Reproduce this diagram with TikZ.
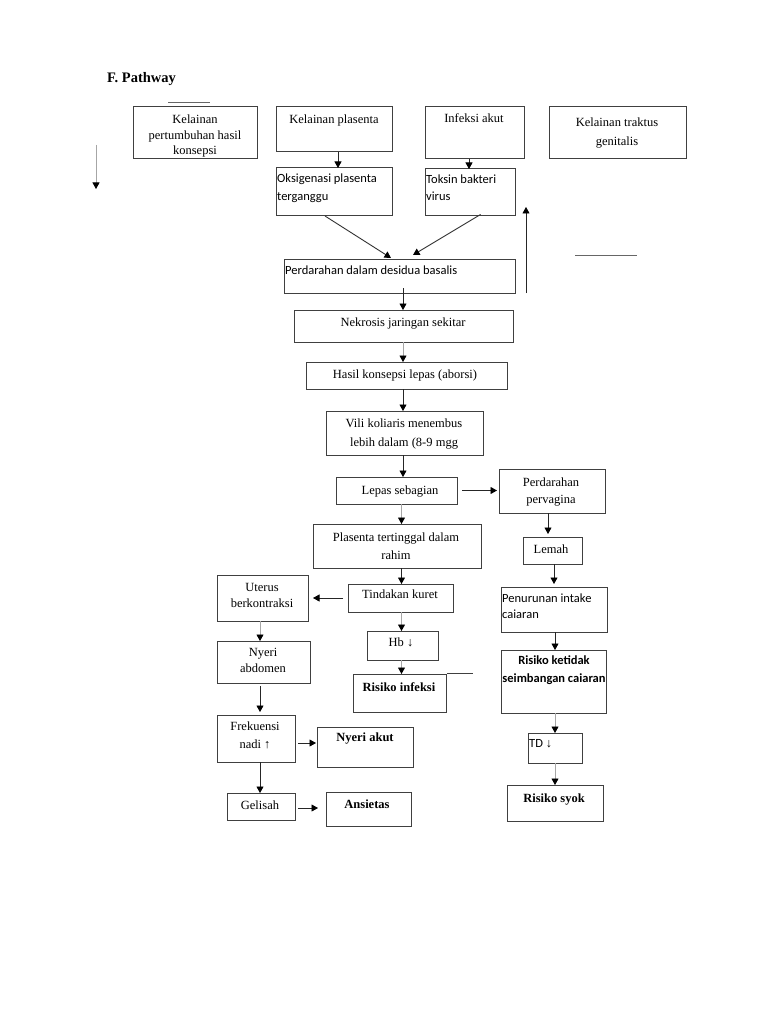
\documentclass[tikz,border=0pt]{standalone}
\usepackage{fontspec}
\setmainfont{Liberation Serif}
\setsansfont{Carlito}
\newfontfamily\arrsans{Liberation Sans}
\usetikzlibrary{arrows.meta,calc}
\begin{document}
\begin{tikzpicture}[x=1pt,y=-1pt,
  box/.style={draw=black!75, line width=1pt, anchor=north west, inner sep=0pt, outer sep=0pt},
  arr/.style={line width=0.9pt, draw=black!85, -{Triangle[length=6.5pt,width=7pt,color=black]}},
  garr/.style={arr, draw=black!35},
  ln/.style={line width=1pt, draw=black!60},
  sr/.style={font=\fontsize{12.5}{15.5}\selectfont, inner sep=0pt, align=center, anchor=north},
  srb/.style={sr, font=\bfseries\fontsize{12.5}{15.5}\selectfont},
  ss/.style={font=\sffamily\fontsize{12.5}{17.5}\selectfont, inner sep=0pt, align=left, anchor=north west},
  ssb/.style={font=\sffamily\bfseries\fontsize{12.5}{18}\selectfont, inner sep=0pt, align=center, anchor=north},
]
\useasboundingbox (0,0) rectangle (768,1024);
\fill[white] (0,0) rectangle (768,1024);

% title
\node[font=\bfseries\fontsize{14.5}{17}\selectfont, inner sep=0pt, anchor=north west] (title) at (107,72) {F. Pathway};

% boxes
\node[box, minimum width=124pt, minimum height=52pt] (k1) at (133,107) {};
\node[box, minimum width=116pt, minimum height=45pt] (k2) at (276,107) {};
\node[box, minimum width=99pt,  minimum height=52pt] (k3) at (425,107) {};
\node[box, minimum width=137pt, minimum height=52pt] (k4) at (549,107) {};
\node[box, minimum width=116pt, minimum height=48pt] (ox) at (276,168) {};
\node[box, minimum width=90pt,  minimum height=47pt] (tk) at (425,169) {};
\node[box, minimum width=231pt, minimum height=34pt] (pd) at (284,259) {};
\node[box, minimum width=219pt, minimum height=32pt] (nk) at (294,310) {};
\node[box, minimum width=201pt, minimum height=27pt] (hk) at (306,362) {};
\node[box, minimum width=157pt, minimum height=44pt] (vl) at (326,411) {};
\node[box, minimum width=121pt, minimum height=27pt] (ls) at (336,477) {};
\node[box, minimum width=106pt, minimum height=44pt] (pv) at (499,469) {};
\node[box, minimum width=59pt,  minimum height=27pt] (lm) at (523,537) {};
\node[box, minimum width=168pt, minimum height=44pt] (pl) at (313,524) {};
\node[box, minimum width=105pt, minimum height=28pt] (tn) at (348,584) {};
\node[box, minimum width=91pt,  minimum height=46pt] (ut) at (217,575) {};
\node[box, minimum width=93pt,  minimum height=42pt] (na) at (217,641) {};
\node[box, minimum width=71pt,  minimum height=29pt] (hb) at (367,631) {};
\node[box, minimum width=93pt,  minimum height=38pt] (ri) at (353,674) {};
\node[box, minimum width=106pt, minimum height=45pt] (pn) at (501,587) {};
\node[box, minimum width=105pt, minimum height=63pt] (rk) at (501,650) {};
\node[box, minimum width=54pt,  minimum height=30pt] (td) at (528,733) {};
\node[box, minimum width=96pt,  minimum height=36pt] (rs) at (507,785) {};
\node[box, minimum width=78pt,  minimum height=47pt] (fr) at (217,715) {};
\node[box, minimum width=96pt,  minimum height=40pt] (nya) at (317,727) {};
\node[box, minimum width=68pt,  minimum height=27pt] (gl) at (227,793) {};
\node[box, minimum width=85pt,  minimum height=34pt] (an) at (326,792) {};

% texts
\node[sr] (k1t) at (195,115) {Kelainan\\pertumbuhan hasil\\konsepsi};
\node[sr] (k2t) at (334,115) {Kelainan plasenta};
\node[sr] (k3t) at (474,114) {Infeksi akut};
\node[sr, font=\fontsize{12.5}{19}\selectfont] (k4t) at (617,118) {Kelainan traktus\\genitalis};
\node[ss, font=\sffamily\fontsize{12.5}{18}\selectfont] (oxt) at (277,174) {Oksigenasi plasenta\\terganggu};
\node[ss, font=\sffamily\fontsize{12.5}{17}\selectfont] (tkt) at (426,175) {Toksin bakteri\\virus};
\node[ss] (pdt) at (285,266) {Perdarahan dalam desidua basalis};
\node[sr] (nkt) at (403,318) {Nekrosis jaringan sekitar};
\node[sr] (hkt) at (405,370) {Hasil konsepsi lepas (aborsi)};
\node[sr, font=\fontsize{12.5}{19}\selectfont] (vlt) at (404,419) {Vili koliaris menembus\\lebih dalam (8-9 mgg};
\node[sr] (lst) at (400,486) {Lepas sebagian};
\node[sr, font=\fontsize{12.5}{17}\selectfont] (pvt) at (551,478) {Perdarahan\\pervagina};
\node[sr] (lmt) at (551,545) {Lemah};
\node[sr, font=\fontsize{12.5}{18}\selectfont] (plt) at (396,533) {Plasenta tertinggal dalam\\rahim};
\node[sr] (tnt) at (400,590) {Tindakan kuret};
\node[sr, font=\fontsize{12.5}{16}\selectfont] (utt) at (262,583) {Uterus\\berkontraksi};
\node[sr, font=\fontsize{12.5}{16}\selectfont] (nat) at (263,648) {Nyeri\\abdomen};
\node[sr] (hbt) at (401,638) {Hb ↓};
\node[srb] (rit) at (399,682) {Risiko infeksi};
\node[sr, font=\fontsize{12.5}{18}\selectfont] (frt) at (255,722) {Frekuensi\\nadi ↑};
\node[srb] (nyat) at (365,733) {Nyeri akut};
\node[sr] (glt) at (260,801) {Gelisah};
\node[srb] (ant) at (367,800) {Ansietas};
\node[ss, font=\sffamily\fontsize{12.5}{15.5}\selectfont] (pnt) at (502,594) {Penurunan intake\\caiaran};
\node[ssb] (rkt) at (554,655.5) {Risiko ketidak\\seimbangan caiaran};
\node[ss] (tdt) at (529,739) {TD {\arrsans ↓}};
\node[srb] (rst) at (554,794) {Risiko syok};

% column coordinates
\coordinate (c1) at (338,0);
\coordinate (c2) at (469,0);
\coordinate (d1) at (325,0);
\coordinate (e1) at (391,0);
\coordinate (d2) at (478,0);
\coordinate (e2) at (413,0);
\coordinate (col) at (403,0);
\coordinate (colb) at (401.5,0);
\coordinate (cR1) at (548,0);
\coordinate (cR2) at (554,0);
\coordinate (cR3) at (555,0);
\coordinate (cL) at (260,0);
\coordinate (h1) at (0,743);
\coordinate (h2) at (0,808);

% free marks
\coordinate (u1) at (526,293);
\coordinate (u2) at (526,207);
\coordinate (v1) at (96,145);
\coordinate (v2) at (96,189);
\coordinate (l1a) at (168,103);
\coordinate (l1b) at (210,103);
\coordinate (l2a) at (575,255);
\coordinate (l2b) at (637,255);
\coordinate (l3a) at (447,673);
\coordinate (l3b) at (473,673);

\draw[ln] (l1a) -- (l1b);
\draw[ln] (l2a) -- (l2b);
\draw[ln, draw=black!75] (l3a) -- (l3b);
\draw[arr] (u1) -- (u2);
\draw[garr] (v1) -- (v2);

% connectors
\draw[arr] (k2.south -| c1) -- (ox.north -| c1);
\draw[arr] (k3.south -| c2) -- (tk.north -| c2);
\draw[arr, draw=black!80] (ox.south -| d1) -- ([yshift=1pt]pd.north -| e1);
\draw[arr, draw=black!80, shorten <=-3pt] (tk.south -| d2) -- ([yshift=4pt]pd.north -| e2);
\draw[arr, shorten <=-5pt] (pd.south -| col) -- (nk.north -| col);
\draw[garr] (nk.south -| col) -- (hk.north -| col);
\draw[arr] (hk.south -| col) -- (vl.north -| col);
\draw[arr] (vl.south -| col) -- (ls.north -| col);
\draw[arr, shorten <=5pt, shorten >=2pt] (ls.east) -- (pv.west |- ls.east);
\draw[garr] (ls.south -| colb) -- (pl.north -| colb);
\draw[arr] (pl.south -| colb) -- (tn.north -| colb);
\draw[arr, shorten <=5pt, shorten >=5pt] (tn.west) -- (ut.east |- tn.west);
\draw[garr] (tn.south -| colb) -- (hb.north -| colb);
\draw[garr] (hb.south -| colb) -- (ri.north -| colb);
\draw[garr] (ut.south -| cL) -- (na.north -| cL);
\draw[arr, shorten <=3pt, shorten >=3pt] (na.south -| cL) -- (fr.north -| cL);
\draw[arr] (fr.south -| cL) -- (gl.north -| cL);
\draw[arr, shorten <=3pt, shorten >=1pt] (fr.east |- h1) -- (nya.west |- h1);
\draw[arr, shorten <=3pt, shorten >=8pt] (gl.east |- h2) -- (an.west |- h2);
\draw[arr, shorten >=3pt] (pv.south -| cR1) -- (lm.north -| cR1);
\draw[arr, shorten >=3pt] (lm.south -| cR2) -- (pn.north -| cR2);
\draw[arr] (pn.south -| cR3) -- (rk.north -| cR3);
\draw[garr] (rk.south -| cR3) -- (td.north -| cR3);
\draw[garr] (td.south -| cR3) -- (rs.north -| cR3);
\end{tikzpicture}
\end{document}
